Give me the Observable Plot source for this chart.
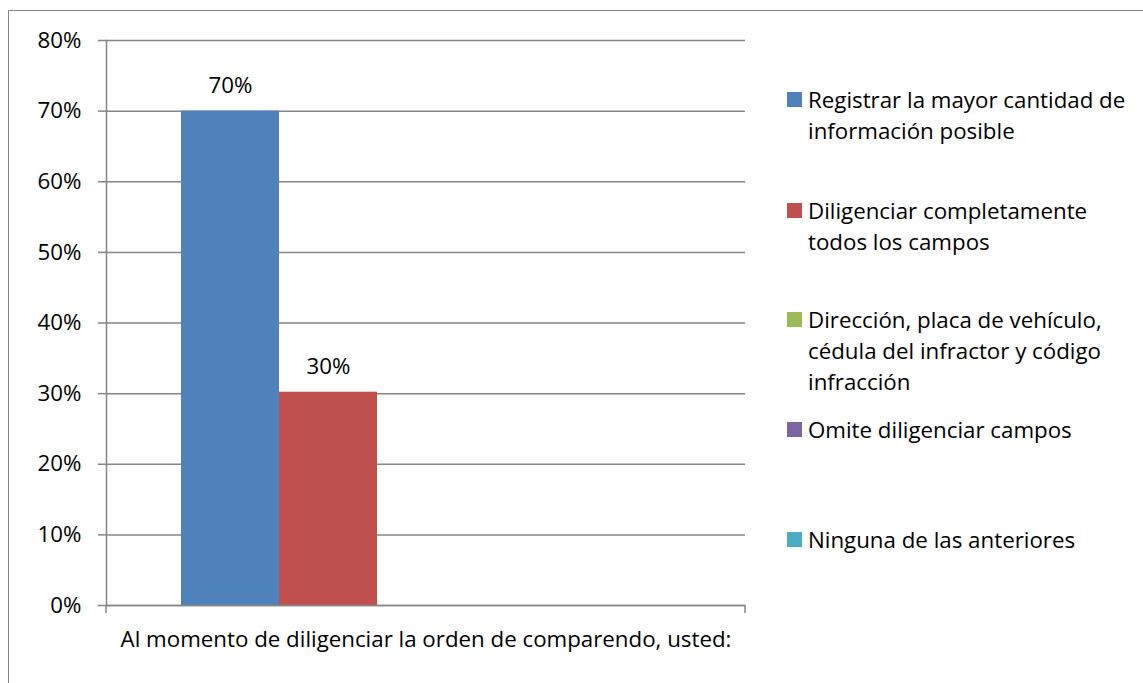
<!DOCTYPE html>
<html>
<head>
<meta charset="utf-8">
<script src="https://cdn.jsdelivr.net/npm/d3@7"></script>
<script src="https://cdn.jsdelivr.net/npm/@observablehq/plot@0.6"></script>
<style>
  html, body { margin: 0; padding: 0; background: #fff; }
  #wrap { position: relative; width: 1143px; height: 683px; overflow: hidden; font-family: "Open Sans", Lato, sans-serif; color: #000; }
  #border { position: absolute; left: 8px; top: 10px; width: 1200px; height: 800px; border: 1px solid #868686; box-sizing: border-box; }
  #chart { position: absolute; left: 0; top: 0; }
  #legend { position: absolute; left: 0; top: 0; }
  .sw { position: absolute; left: 787px; width: 15px; height: 15px; }
  .lt { position: absolute; left: 808px; font-size: 22.3px; line-height: 31px; white-space: nowrap; }
</style>
</head>
<body>
<div id="wrap">
  <div id="border"></div>
  <div id="chart"></div>
  <div id="legend"></div>
</div>
<script>
// ---- data ----
const categories = [
  "Registrar la mayor cantidad de información posible",
  "Diligenciar completamente todos los campos",
  "Dirección, placa de vehículo, cédula del infractor y código infracción",
  "Omite diligenciar campos",
  "Ninguna de las anteriores"
];
const values = [0.70, 0.302, 0, 0, 0];
const colors = ["#4F81BD", "#C0504D", "#9BBB59", "#8064A2", "#4BACC6"];
const legendLines = [
  ["Registrar la mayor cantidad de", "información posible"],
  ["Diligenciar completamente", "todos los campos"],
  ["Dirección, placa de vehículo,", "cédula del infractor y código", "infracción"],
  ["Omite diligenciar campos"],
  ["Ninguna de las anteriores"]
];
const yTicks = [0, 0.1, 0.2, 0.3, 0.4, 0.5, 0.6, 0.7, 0.8];
const xTitle = "Al momento de diligenciar la orden de comparendo, usted:";

const data = categories.map((c, i) => ({category: c, value: values[i]}));
const pct = d3.format(".0%");
const grid = "#868686";
const font = "'Open Sans', Lato, sans-serif";
const fs = 22.3;

// small tick marks at both ends of the category axis (frame edges)
function edgeTicks(index, scales, values, dims) {
  const g = d3.create("svg:g").attr("stroke", grid).attr("stroke-width", 1.5);
  const y0 = dims.height - dims.marginBottom;
  [dims.marginLeft, dims.width - dims.marginRight].forEach(x => {
    g.append("line").attr("x1", x).attr("x2", x).attr("y1", y0).attr("y2", y0 + 8);
  });
  return g.node();
}

const chart = Plot.plot({
  width: 1143,
  height: 683,
  marginLeft: 106,
  marginRight: 398,
  marginTop: 40,
  marginBottom: 78,
  style: {fontFamily: font, fontSize: fs + "px", color: "#000", background: "transparent"},
  x: {type: "band", domain: categories, paddingInner: 0, paddingOuter: 0.75, axis: null},
  y: {domain: [0, 0.8], axis: null},
  color: {domain: categories, range: colors},
  marks: [
    Plot.gridY(yTicks, {stroke: grid, strokeOpacity: 1, strokeWidth: 1.5}),
    Plot.barY(data, {x: "category", y: "value", fill: "category"}),
    Plot.axisY(yTicks, {label: null, tickFormat: pct, tickSize: 8, tickPadding: 17, stroke: grid, strokeWidth: 1.5, fontSize: fs, fill: "#000"}),
    Plot.frame({anchor: "left", stroke: grid, strokeWidth: 1.5}),
    Plot.ruleY([0], {stroke: grid, strokeWidth: 1.5}),
    edgeTicks,
    Plot.text(data.filter(d => d.value > 0), {x: "category", y: "value", text: d => pct(d.value), lineAnchor: "bottom", dy: -18, fontSize: fs, fill: "#000"}),
    Plot.text([xTitle], {frameAnchor: "bottom", lineAnchor: "bottom", dy: 41, fontSize: fs, fill: "#000"})
  ]
});
document.getElementById("chart").appendChild(chart);

// ---- legend ----
const legendTops = [92, 203, 312, 422, 532];
const legend = document.getElementById("legend");
categories.forEach((c, i) => {
  const sw = document.createElement("div");
  sw.className = "sw";
  sw.style.top = legendTops[i] + "px";
  sw.style.background = colors[i];
  legend.appendChild(sw);
  const t = document.createElement("div");
  t.className = "lt";
  t.style.top = (legendTops[i] - 8) + "px";
  t.innerHTML = legendLines[i].join("<br>");
  legend.appendChild(t);
});
</script>
</body>
</html>
